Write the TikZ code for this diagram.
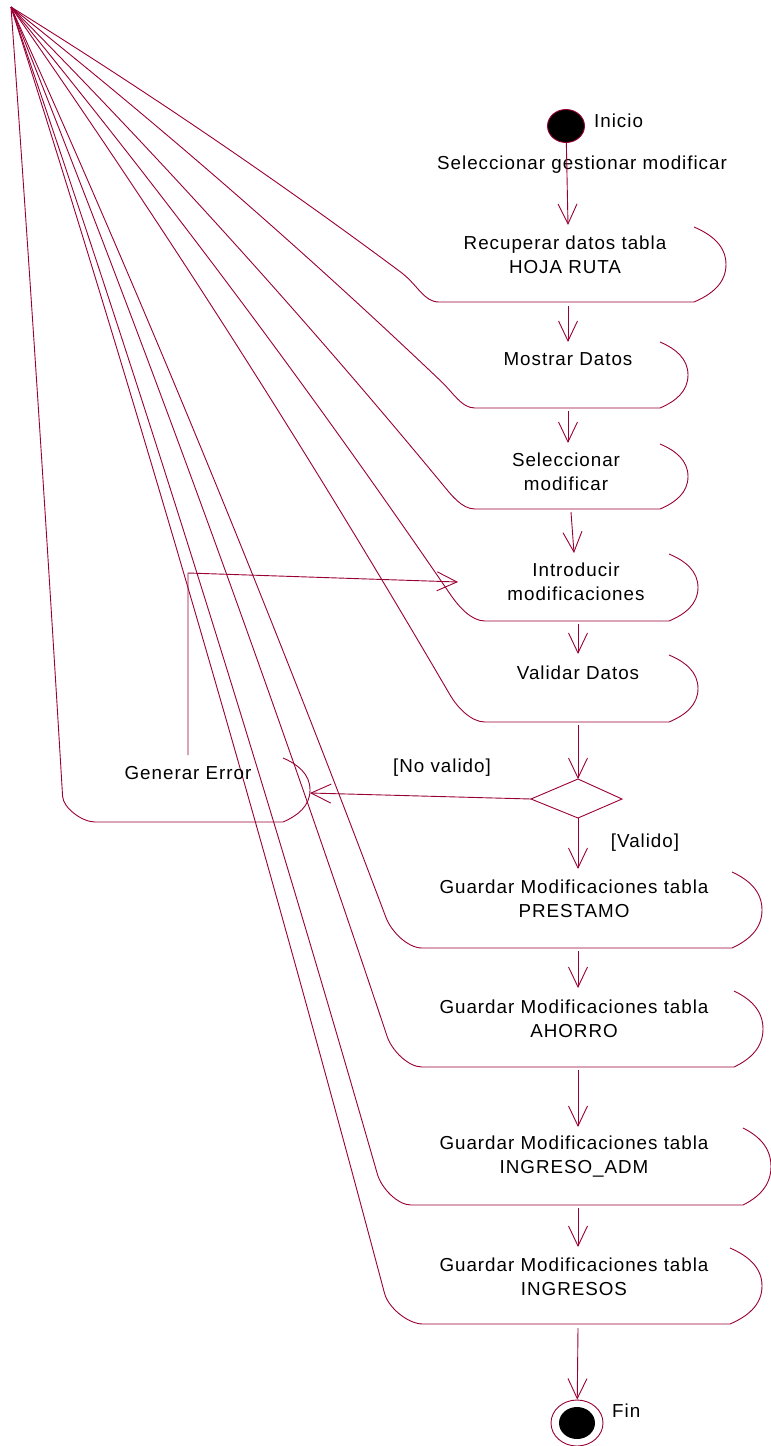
\documentclass[tikz,border=0pt]{standalone}
\usepackage{fontspec}
\usetikzlibrary{arrows.meta,calc,shapes.geometric}
\newfontfamily\rosefont{Liberation Sans}[LetterSpace=5.2]
\definecolor{rosered}{RGB}{153,0,51}
\tikzset{
  actline/.style={draw=rosered,line width=0.9pt},
  flow/.style={draw=rosered,line width=0.9pt,-{Straight Barb[length=20pt,width=19pt,line width=0.9pt]}},
  lbl/.style={inner sep=0pt,font=\rosefont\fontsize{18.8}{24}\selectfont,align=center,text=black},
}
% xL, xR, yTop, yBottom, rx
\newcommand\roseact[5]{%
  \pgfmathsetmacro\rsYm{(#3+#4)/2}%
  \pgfmathsetmacro\rsH{(#4-#3)/2}%
  \pgfmathsetmacro\rsMx{#1-1.2*#5}%
  \pgfmathsetmacro\rsMy{\rsYm+0.2*\rsH}%
  \pgfmathsetmacro\rsDx{\rsMx-11}%
  \pgfmathsetmacro\rsDy{\rsMy-7}%
  \pgfmathsetmacro\rsPax{11+0.35*\rsDx}%
  \pgfmathsetmacro\rsPay{7+0.32*\rsDy}%
  \pgfmathsetmacro\rsPbx{\rsMx-0.32*\rsDx}%
  \pgfmathsetmacro\rsPby{\rsMy-0.35*\rsDy}%
  \pgfmathsetmacro\rsK{min(0.45*(#1-\rsMx)/(0.32*\rsDx),0.45*(#4-\rsMy)/(0.35*\rsDy))}%
  \pgfmathsetmacro\rsCax{\rsMx+0.32*\rsDx*\rsK}%
  \pgfmathsetmacro\rsCay{\rsMy+0.35*\rsDy*\rsK}%
  \pgfmathsetmacro\rsCbx{#1-0.4*(#1-\rsMx)}%
  \pgfmathsetmacro\rsRx{#2+#5}%
  \pgfmathsetmacro\rsUa{\rsYm-0.5*\rsH}%
  \pgfmathsetmacro\rsUb{\rsYm+0.5*\rsH}%
  \pgfmathsetmacro\rsQr{#2+0.55*#5}%
  \pgfmathsetmacro\rsQb{#4-0.2*\rsH}%
  \pgfmathsetmacro\rsQt{#3+0.2*\rsH}%
  \draw[actline] (apex) .. controls (\rsPax,\rsPay) and (\rsPbx,\rsPby) .. (\rsMx,\rsMy)
     .. controls (\rsCax,\rsCay) and (\rsCbx,#4) .. (#1,#4) -- (#2,#4)
     .. controls (\rsQr,\rsQb) and (\rsRx,\rsUb) .. (\rsRx,\rsYm)
     .. controls (\rsRx,\rsUa) and (\rsQr,\rsQt) .. (#2,#3);%
}
\begin{document}
\begin{tikzpicture}[x=1pt,y=-1pt]
\useasboundingbox (0,0) rectangle (771,1446);
\coordinate (apex) at (11,7);

% activity outlines
\roseact{439}{694}{227}{302}{32}
\roseact{475}{660}{342}{408}{28}
\roseact{475}{660}{444}{509}{28}
\roseact{485}{669}{554}{621}{29}
\roseact{485}{669}{655}{722}{29}
\roseact{95}{283}{758}{822}{27}
\roseact{422}{732}{872}{948}{30}
\roseact{422}{734}{991}{1067}{29}
\roseact{411}{743}{1128}{1205}{28}
\roseact{423}{730}{1248}{1324}{32}

% start / end
\node[ellipse,draw=rosered,fill=black,line width=0.9pt,minimum width=37pt,minimum height=33pt,inner sep=0pt] (start) at (566,126) {};
\node[ellipse,draw=rosered,line width=0.9pt,minimum width=52pt,minimum height=46pt,inner sep=0pt] (fin) at (577,1423) {};
\node[ellipse,fill=black,minimum width=36pt,minimum height=32pt,inner sep=0pt] (finin) at (577,1423) {};

% labels
\node[lbl,anchor=west] (tIni) at (594,121) {Inicio};
\node[lbl] (tSel) at (582,165) {Seleccionar gestionar modificar};
\node[lbl] (tRec) at (565,255) {Recuperar datos tabla\\HOJA RUTA};
\node[lbl] (tMos) at (568,359) {Mostrar Datos};
\node[lbl] (tSm) at (566,471.5) {Seleccionar\\modificar};
\node[lbl] (tInt) at (576,581.5) {Introducir\\modificaciones};
\node[lbl] (tVal) at (578,673) {Validar Datos};
\node[lbl] (tGen) at (188,773) {Generar Error};
\node[lbl] (tNo) at (442,768) {[No valido]};
\node[lbl] (tSi) at (645,843) {[Valido]};
\node[lbl] (tPre) at (574,899) {Guardar Modificaciones tabla\\PRESTAMO};
\node[lbl] (tAho) at (574,1019) {Guardar Modificaciones tabla\\AHORRO};
\node[lbl] (tAdm) at (574,1157) {Guardar Modificaciones tabla\\INGRESO\_ADM};
\node[lbl] (tIng) at (574,1276.5) {Guardar Modificaciones tabla\\INGRESOS};
\node[lbl,anchor=west] (tFin) at (612,1411) {Fin};

% decision
\coordinate (dT) at (578,779);
\coordinate (dL) at (531,799);
\coordinate (dR) at (622,799);
\coordinate (dB) at (578,818);
\draw[actline] (dT) -- (dR) -- (dB) -- (dL) -- cycle;

% connector coordinates
\coordinate (a1e) at (568,225);
\coordinate (a2s) at (568,306); \coordinate (a2e) at (568,342);
\coordinate (a3s) at (568,411); \coordinate (a3e) at (568,443);
\coordinate (a4s) at (571,512); \coordinate (a4e) at (574,553);
\coordinate (a5s) at (578,624); \coordinate (a5e) at (578,654);
\coordinate (a6s) at (578,725);
\coordinate (genR) at (310,793);
\coordinate (a8e) at (578,869);
\coordinate (a9s) at (578,951); \coordinate (a9e) at (578,988);
\coordinate (a10s) at (578,1070); \coordinate (a10e) at (578,1127);
\coordinate (a11s) at (578,1208); \coordinate (a11e) at (578,1247);
\coordinate (a12s) at (578,1328);
\coordinate (gE) at (188,755);
\coordinate (gC) at (188,573);
\coordinate (gT) at (458,582);

\draw[flow] (start) -- (a1e);
\draw[flow] (a2s) -- (a2e);
\draw[flow] (a3s) -- (a3e);
\draw[flow] (a4s) -- (a4e);
\draw[flow] (a5s) -- (a5e);
\draw[flow] (a6s) -- (dT);
\draw[flow] (dL) -- (genR);
\draw[flow] (dB) -- (a8e);
\draw[flow] (a9s) -- (a9e);
\draw[flow] (a10s) -- (a10e);
\draw[flow] (a11s) -- (a11e);
\draw[flow] (a12s) -- (fin);
\draw[flow] (gE) -- (gC) -- (gT);
\end{tikzpicture}
\end{document}
